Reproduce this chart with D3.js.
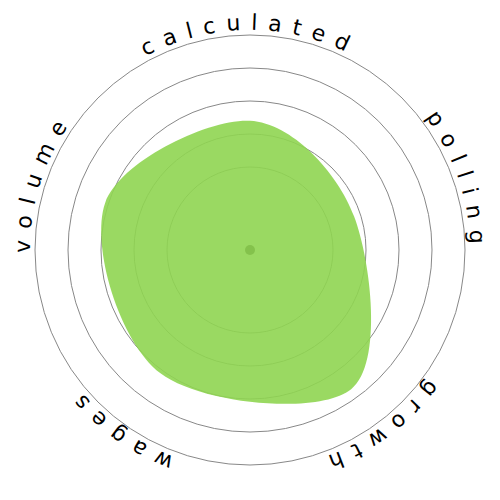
<!DOCTYPE html>
<html>
<head>
<meta charset="utf-8">
<script src="https://cdn.jsdelivr.net/npm/d3@7"></script>
<style>
  body { margin: 0; background: #fff; }
  text { font-family: "DejaVu Sans", sans-serif; }
</style>
</head>
<body>
<svg id="chart" width="500" height="500"></svg>
<script>
// axes, clockwise from the top
const axes = ["calculated", "polling", "growth", "wages", "volume"];
const values = [2.4, 1.8, 3.7, 3.1, 3.1];
const rings = [1, 2, 3, 4, 5];

const svg = d3.select("#chart");
const cx = 250, cy = 250;
const g = svg.append("g").attr("transform", `translate(${cx},${cy})`);

const r = d3.scaleLinear().domain([0, 5]).range([50, 215]);
const angle = d3.scaleLinear().domain([0, axes.length]).range([0, 2 * Math.PI]);

// rings
g.selectAll(".ring")
  .data(rings)
  .enter()
  .append("circle")
  .classed("ring", true)
  .attr("r", d => r(d))
  .attr("fill", "none")
  .attr("stroke", "#888")
  .attr("stroke-width", 1);

// blob
const line = d3.lineRadial()
  .angle((d, i) => angle(i))
  .radius(d => r(d))
  .curve(d3.curveCardinalClosed);

g.append("path")
  .datum(values)
  .attr("d", line)
  .attr("fill", "#8fd551")
  .attr("fill-opacity", 0.9);

// centre dot
g.append("circle")
  .attr("r", 5)
  .attr("fill", "#84c24c");

// curved labels
const labelR = 220;
const labels = g.selectAll(".label")
  .data(axes)
  .enter()
  .append("g")
  .classed("label", true);

labels.append("path")
  .attr("id", (d, i) => "lp" + i)
  .attr("fill", "none")
  .attr("d", (d, i) => {
    const t = angle(i) - Math.PI / 2;
    const p = d3.path();
    p.arc(0, 0, labelR, t - Math.PI / 2, t + Math.PI / 2, false);
    return p.toString();
  });

labels.append("text")
  .attr("font-size", 22)
  .attr("letter-spacing", 10.5)
  .attr("fill", "#000")
  .append("textPath")
  .attr("href", (d, i) => "#lp" + i)
  .attr("startOffset", "50%")
  .attr("text-anchor", "middle")
  .text(d => d);
</script>
</body>
</html>
